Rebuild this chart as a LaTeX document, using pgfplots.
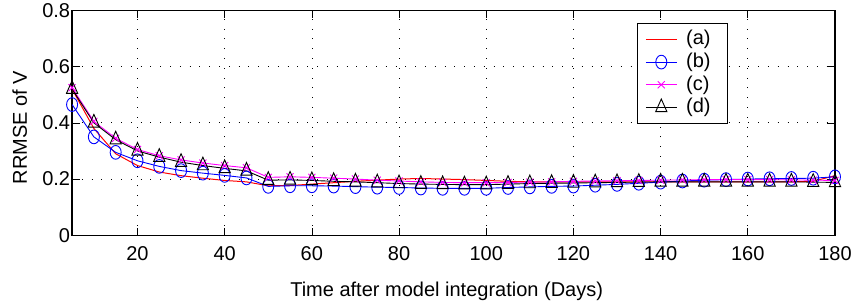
\documentclass[border=0pt]{standalone}
\usepackage{pgfplots}
\pgfplotsset{compat=1.18}
\usepackage{fontspec}
\setmainfont{Liberation Sans}
\definecolor{mred}{rgb}{1,0,0}
\definecolor{mblue}{rgb}{0,0,1}
\definecolor{mmag}{rgb}{1,0,1}
\pgfplotstableread{
d a b c e
5 0.52 0.465 0.525 0.52
10 0.38 0.35 0.405 0.40
15 0.29 0.295 0.345 0.34
20 0.248 0.265 0.305 0.30
25 0.225 0.245 0.283 0.278
30 0.212 0.23 0.268 0.26
35 0.203 0.221 0.257 0.248
40 0.195 0.213 0.248 0.238
45 0.19 0.204 0.24 0.229
50 0.176 0.174 0.206 0.196
55 0.177 0.176 0.208 0.197
60 0.182 0.176 0.206 0.195
65 0.187 0.175 0.203 0.192
70 0.192 0.173 0.20 0.19
75 0.196 0.171 0.196 0.187
80 0.20 0.17 0.193 0.184
85 0.202 0.168 0.19 0.182
90 0.20 0.167 0.188 0.181
95 0.198 0.167 0.187 0.18
100 0.195 0.167 0.187 0.18
105 0.192 0.17 0.188 0.182
110 0.19 0.172 0.189 0.184
115 0.19 0.174 0.19 0.185
120 0.19 0.175 0.192 0.186
125 0.19 0.178 0.193 0.187
130 0.19 0.181 0.194 0.188
135 0.19 0.185 0.195 0.189
140 0.19 0.189 0.196 0.19
145 0.19 0.193 0.197 0.19
150 0.19 0.196 0.198 0.19
155 0.19 0.198 0.198 0.19
160 0.19 0.20 0.198 0.19
165 0.19 0.201 0.198 0.19
170 0.19 0.202 0.197 0.19
175 0.192 0.203 0.196 0.189
180 0.212 0.208 0.195 0.188
}\datatable
\begin{document}
\begin{tikzpicture}
\begin{axis}[
  scale only axis,
  width=760bp, height=224bp,
  xmin=5, xmax=180, ymin=0, ymax=0.8,
  xtick={20,40,...,180},
  ytick={0,0.2,0.4,0.6,0.8},
  yticklabels={0,0.2,0.4,0.6,0.8},
  tick align=inside,
  major tick length=7.5bp,
  axis line style={line width=1.4pt},
  tick style={black, line width=0.6pt},
  grid=major,
  major grid style={black, line width=0.7pt, dash pattern=on 0.8pt off 9pt},
  /pgf/number format/assume math mode=true,
  ticklabel style={font=\fontsize{20}{22}\selectfont},
  yticklabel style={xshift=1.5bp},
  xticklabel style={yshift=-8bp},
  label style={font=\fontsize{20}{22}\selectfont},
  xlabel={Time after model integration (Days)},
  ylabel={RRMSE of V},
  xlabel style={at={(axis description cs:0.491,-0.2723)}, anchor=base, inner ysep=5bp},
  ylabel style={at={(axis description cs:-0.0592,0.48)}, anchor=base, rotate=0, inner ysep=12.4bp},
  legend style={at={(0.859,0.942)}, anchor=north east,
    font=\fontsize{20}{22}\selectfont, row sep=0pt, column sep=6.6bp,
    inner xsep=7.8bp, inner ysep=4.4bp,
    nodes={inner xsep=2.2bp, inner ysep=1.9bp, text height=14.6bp, text depth=4.2bp}},
  legend cell align=left,
  legend image code/.code={\draw[mark repeat=2,mark phase=2,#1] plot coordinates {(0bp,0bp) (15.5bp,0bp) (31bp,0bp)};},
]
\addplot[mred, line width=1pt] table[x=d,y=a]{\datatable};
\addlegendentry{(a)\hspace*{6.5bp}}
\addplot[mblue, line width=0.9pt, mark=o, mark size=5.5pt, mark options={yscale=1.25}] table[x=d,y=b]{\datatable};
\addlegendentry{(b)\hspace*{6.5bp}}
\addplot[mmag, line width=0.9pt, mark=x, mark size=5pt] table[x=d,y=c]{\datatable};
\addlegendentry{(c)\hspace*{6.5bp}}
\addplot[black, line width=0.9pt, mark=triangle, mark size=6.5pt, mark options={yscale=1.3}] table[x=d,y=e]{\datatable};
\addlegendentry{(d)\hspace*{6.5bp}}
\end{axis}
\end{tikzpicture}
\end{document}
